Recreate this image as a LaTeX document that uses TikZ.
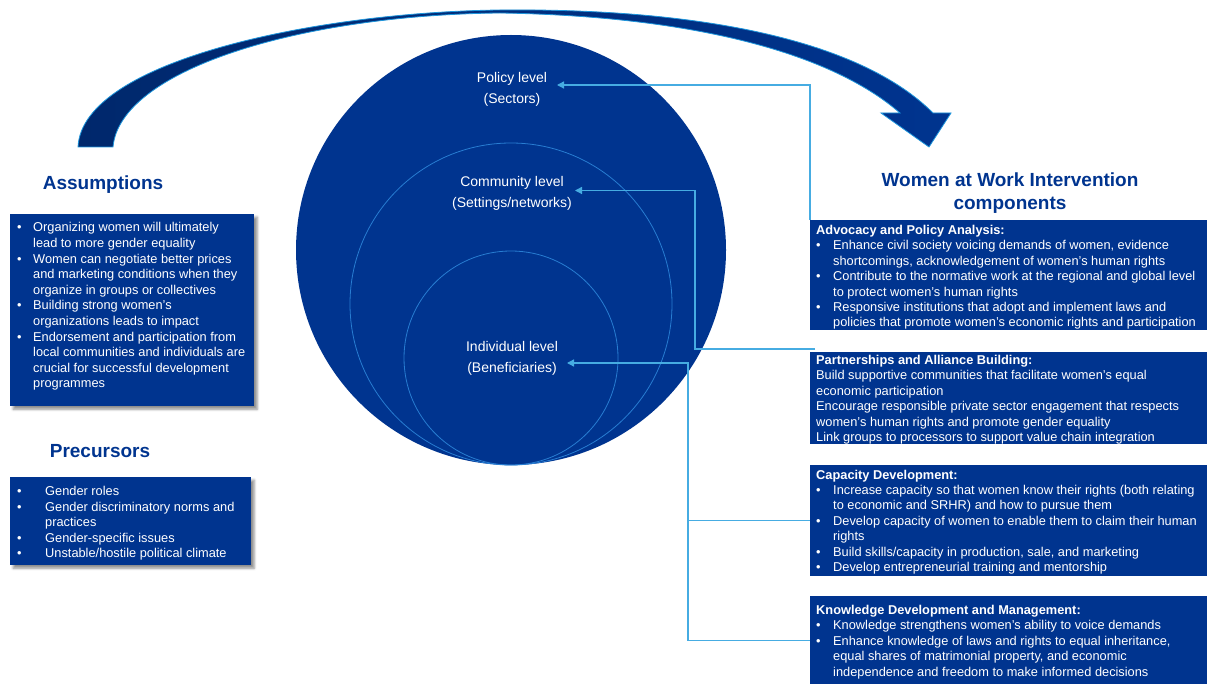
\documentclass[tikz,border=0pt]{standalone}
\usepackage{fontspec}
\setmainfont{Liberation Sans}
\usetikzlibrary{arrows.meta,shadows.blur}
\definecolor{wowblue}{RGB}{0,52,143}
\definecolor{navydark}{RGB}{0,40,108}
\definecolor{connblue}{RGB}{70,172,226}
\definecolor{ringblue}{RGB}{40,125,210}
\definecolor{edgeblue}{RGB}{30,150,220}
\begin{document}
\begin{tikzpicture}[x=1pt,y=-1pt,
  boxbg/.style={fill=wowblue,draw=none,inner sep=0pt,anchor=north west},
  shadowed/.style={blur shadow={shadow xshift=3pt,shadow yshift=-3pt,shadow blur radius=2.5pt,shadow opacity=45}},
  rtext/.style={text=white,font=\fontsize{12.8}{15.4}\selectfont,anchor=base west,inner sep=0pt},
  ltext/.style={text=white,font=\fontsize{12.8}{15.6}\selectfont,anchor=base west,inner sep=0pt},
  conn/.style={draw=connblue,line width=1.3pt},
  tip/.style={-{Triangle[length=7pt,width=7pt]}},
  ttl/.style={text=wowblue,font=\bfseries\fontsize{19}{22.5}\selectfont,anchor=base,inner sep=0pt},
  lvl/.style={text=white,font=\fontsize{14}{20.5}\selectfont,anchor=base,inner sep=0pt},
  ring/.style={draw=ringblue,line width=0.8pt}
]
\useasboundingbox (0,0) rectangle (1207,684);

% big curved arrow
\path[left color=navydark,right color=wowblue,draw=edgeblue,line width=0.8pt]
  (78,147) .. controls (82,60) and (320,12) .. (500,10)
  .. controls (700,8) and (860,40) .. (933,113)
  -- (951,113) -- (929,147) -- (881,113) -- (900,113)
  .. controls (830,52) and (690,16) .. (500,13)
  .. controls (300,15) and (120,70) .. (113,147) -- cycle;

% circles
\node[circle,fill=wowblue,minimum size=430pt,inner sep=0pt] (big) at (511,250) {};
\draw[ring] (511,304) circle[radius=161];
\draw[ring] (511,358) circle[radius=107];

% level labels
\node[lvl] (policy) at (512,83) {\begin{tabular}[t]{@{}c@{}}Policy level\\(Sectors)\end{tabular}};
\node[lvl] (community) at (512,187) {\begin{tabular}[t]{@{}c@{}}Community level\\(Settings/networks)\end{tabular}};
\node[lvl] (individual) at (512,352) {\begin{tabular}[t]{@{}c@{}}Individual level\\(Beneficiaries)\end{tabular}};

% titles
\node[ttl] (assT) at (103,190) {Assumptions};
\node[ttl] (preT) at (100,457) {Precursors};
\node[ttl] (wowT) at (1010,187) {\begin{tabular}[t]{@{}c@{}}Women at Work Intervention\\components\end{tabular}};

% left boxes
\node[boxbg,shadowed,minimum width=244pt,minimum height=192pt] (ass) at (10,214) {};
\node[ltext] (assX) at (17,232) {\begin{tabular}[t]{@{}p{16pt}@{}l@{}}
\textbullet & Organizing women will ultimately\\
 & lead to more gender equality\\
\textbullet & Women can negotiate better prices\\
 & and marketing conditions when they\\
 & organize in groups or collectives\\
\textbullet & Building strong women’s\\
 & organizations leads to impact\\
\textbullet & Endorsement and participation from\\
 & local communities and individuals are\\
 & crucial for successful development\\
 & programmes
\end{tabular}};

\node[boxbg,shadowed,minimum width=241pt,minimum height=88pt] (pre) at (10,477) {};
\node[ltext] (preX) at (17,495.5) {\begin{tabular}[t]{@{}p{28pt}@{}l@{}}
\textbullet & Gender roles\\
\textbullet & Gender discriminatory norms and\\
 & practices\\
\textbullet & Gender-specific issues\\
\textbullet & Unstable/hostile political climate
\end{tabular}};

% right boxes
\node[boxbg,minimum width=397pt,minimum height=110pt] (adv) at (810,220) {};
\node[rtext] (advX) at (816,234.5) {\begin{tabular}[t]{@{}p{17pt}@{}l@{}}
\multicolumn{2}{@{}l@{}}{\textbf{Advocacy and Policy Analysis:}}\\
\textbullet & Enhance civil society voicing demands of women, evidence\\
 & shortcomings, acknowledgement of women’s human rights\\
\textbullet & Contribute to the normative work at the regional and global level\\
 & to protect women’s human rights\\
\textbullet & Responsive institutions that adopt and implement laws and\\
 & policies that promote women’s economic rights and participation
\end{tabular}};

\node[boxbg,minimum width=397pt,minimum height=92pt] (part) at (810,352) {};
\node[rtext] (partX) at (816,364.5) {\begin{tabular}[t]{@{}l@{}}
\textbf{Partnerships and Alliance Building:}\\
Build supportive communities that facilitate women’s equal\\
economic participation\\
Encourage responsible private sector engagement that respects\\
women’s human rights and promote gender equality\\
Link groups to processors to support value chain integration
\end{tabular}};

\node[boxbg,minimum width=397pt,minimum height=111pt] (cap) at (810,465) {};
\node[rtext] (capX) at (816,479) {\begin{tabular}[t]{@{}p{17pt}@{}l@{}}
\multicolumn{2}{@{}l@{}}{\textbf{Capacity Development:}}\\
\textbullet & Increase capacity so that women know their rights (both relating\\
 & to economic and SRHR) and how to pursue them\\
\textbullet & Develop capacity of women to enable them to claim their human\\
 & rights\\
\textbullet & Build skills/capacity in production, sale, and marketing\\
\textbullet & Develop entrepreneurial training and mentorship
\end{tabular}};

\node[boxbg,minimum width=397pt,minimum height=88pt] (kno) at (810,596) {};
\node[rtext] (knoX) at (816,614.5) {\begin{tabular}[t]{@{}p{17pt}@{}l@{}}
\multicolumn{2}{@{}l@{}}{\textbf{Knowledge Development and Management:}}\\
\textbullet & Knowledge strengthens women’s ability to voice demands\\
\textbullet & Enhance knowledge of laws and rights to equal inheritance,\\
 & equal shares of matrimonial property, and economic\\
 & independence and freedom to make informed decisions
\end{tabular}};

% connectors
\coordinate (pTip) at (557,85);
\coordinate (cTip) at (575,190.5);
\coordinate (iTip) at (567,363);
\coordinate (c2s) at (815,349);
\coordinate (cCol) at (695,190.5);
\coordinate (iCol) at (688,363);

\draw[conn,tip] (adv.north west) |- (pTip);
\draw[conn,tip] (c2s) -| (cCol) -- (cTip);
\draw[conn,tip] (kno.west) -| (iCol) -- (iTip);
\draw[conn] (cap.west) -- (cap.west -| iCol);
\end{tikzpicture}
\end{document}
